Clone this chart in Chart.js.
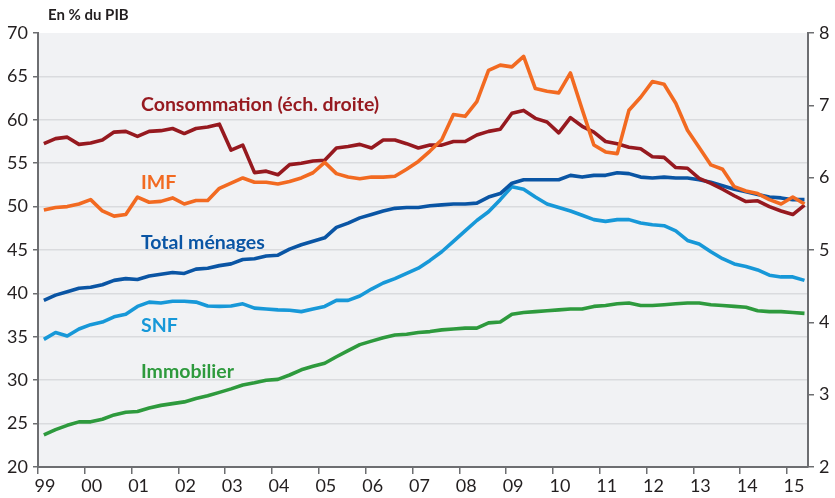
<!DOCTYPE html>
<html lang="fr">
<head>
<meta charset="utf-8">
<title>Crédit en % du PIB</title>
<script src="https://cdn.jsdelivr.net/npm/chart.js@4.4.1/dist/chart.umd.min.js"></script>
<style>
  html, body { margin: 0; padding: 0; background: #fff; }
  #wrap { width: 835px; height: 498px; }
</style>
</head>
<body>
<div id="wrap"><canvas id="chart" width="835" height="498"></canvas></div>
<script>
// tick labels on the x axis (years), one per year from 1999 to 2015
const yearTicks = [1999, 2000, 2001, 2002, 2003, 2004, 2005, 2006, 2007, 2008, 2009, 2010, 2011, 2012, 2013, 2014, 2015];
const yearLabels = ["99", "00", "01", "02", "03", "04", "05", "06", "07", "08", "09", "10", "11", "12", "13", "14", "15"];

// quarterly observations, 1999T1 .. 2015T2
const quarters = [];
for (let y = 1999; y <= 2015; y++) {
  for (let q = 1; q <= 4; q++) {
    if (y === 2015 && q > 2) break;
    quarters.push(y + "T" + q);
  }
}

// right scale (en % du PIB)
const consommation = [
  6.47, 6.54, 6.56, 6.46, 6.48, 6.52, 6.63, 6.64, 6.57, 6.64,
  6.65, 6.68, 6.61, 6.68, 6.70, 6.74, 6.38, 6.45, 6.07, 6.09,
  6.04, 6.18, 6.20, 6.23, 6.24, 6.41, 6.43, 6.46, 6.41, 6.52,
  6.52, 6.47, 6.41, 6.45, 6.45, 6.50, 6.50, 6.59, 6.64, 6.67,
  6.89, 6.93, 6.82, 6.77, 6.62, 6.83, 6.71, 6.63, 6.50, 6.47,
  6.42, 6.40, 6.29, 6.28, 6.14, 6.13, 5.99, 5.92, 5.84, 5.75,
  5.67, 5.68, 5.60, 5.54, 5.49, 5.62
];
// left scale
const imf = [
  49.6, 49.9, 50.0, 50.3, 50.8, 49.5, 48.9, 49.1, 51.1, 50.5,
  50.6, 51.0, 50.3, 50.7, 50.7, 52.1, 52.7, 53.3, 52.8, 52.8,
  52.6, 52.9, 53.3, 53.9, 55.1, 53.8, 53.4, 53.2, 53.4, 53.4,
  53.5, 54.3, 55.2, 56.4, 57.7, 60.6, 60.4, 62.1, 65.7, 66.3,
  66.1, 67.3, 63.6, 63.3, 63.1, 65.4, 61.2, 57.1, 56.3, 56.1,
  61.1, 62.6, 64.4, 64.1, 61.9, 58.8, 56.8, 54.8, 54.3, 52.3,
  51.8, 51.5, 50.8, 50.3, 51.1, 50.3
];
const totalMenages = [
  39.2, 39.8, 40.2, 40.6, 40.7, 41.0, 41.5, 41.7, 41.6, 42.0,
  42.2, 42.4, 42.3, 42.8, 42.9, 43.2, 43.4, 43.9, 44.0, 44.3,
  44.4, 45.1, 45.6, 46.0, 46.4, 47.6, 48.1, 48.7, 49.1, 49.5,
  49.8, 49.9, 49.9, 50.1, 50.2, 50.3, 50.3, 50.4, 51.1, 51.5,
  52.7, 53.1, 53.1, 53.1, 53.1, 53.6, 53.4, 53.6, 53.6, 53.9,
  53.8, 53.4, 53.3, 53.4, 53.3, 53.3, 53.1, 52.8, 52.4, 52.0,
  51.7, 51.4, 51.1, 51.0, 50.8, 50.8
];
const snf = [
  34.7, 35.5, 35.1, 35.9, 36.4, 36.7, 37.3, 37.6, 38.5, 39.0,
  38.9, 39.1, 39.1, 39.0, 38.55, 38.5, 38.55, 38.8, 38.3, 38.2,
  38.1, 38.05, 37.9, 38.2, 38.5, 39.2, 39.2, 39.7, 40.5, 41.2,
  41.7, 42.3, 42.9, 43.8, 44.8, 46.0, 47.2, 48.4, 49.4, 50.8,
  52.3, 52.0, 51.1, 50.3, 49.9, 49.5, 49.0, 48.5, 48.3, 48.5,
  48.5, 48.1, 47.9, 47.8, 47.2, 46.1, 45.7, 44.8, 44.0, 43.4,
  43.1, 42.7, 42.1, 41.9, 41.9, 41.5
];
const immobilier = [
  23.7, 24.3, 24.8, 25.2, 25.2, 25.5, 26.0, 26.3, 26.4, 26.8,
  27.1, 27.3, 27.5, 27.9, 28.2, 28.6, 29.0, 29.45, 29.7, 30.0,
  30.1, 30.6, 31.2, 31.6, 31.95, 32.7, 33.4, 34.1, 34.5, 34.9,
  35.2, 35.3, 35.5, 35.6, 35.8, 35.9, 36.0, 36.0, 36.6, 36.7,
  37.6, 37.8, 37.9, 38.0, 38.1, 38.2, 38.2, 38.5, 38.6, 38.8,
  38.9, 38.6, 38.6, 38.7, 38.8, 38.9, 38.9, 38.7, 38.6, 38.5,
  38.4, 38.0, 37.9, 37.9, 37.8, 37.7
];

const colors = {
  conso: "#96191f",
  imf: "#f26a21",
  total: "#0a55a4",
  snf: "#1798d8",
  immo: "#2e9a3d"
};

// middle of each quarter, in years
const quarterTime = (label) => {
  const [y, q] = label.split("T").map(Number);
  return y + (q - 0.5) / 4;
};
const toPoints = (values) => values.map((v, i) => ({ x: quarterTime(quarters[i]), y: v }));

const FONT = "Lato, 'Open Sans', sans-serif";

const plotBackground = {
  id: "plotBackground",
  beforeDraw(chart) {
    const { ctx, chartArea: a } = chart;
    ctx.save();
    ctx.fillStyle = "#f1f2f4";
    ctx.fillRect(a.left, a.top, a.right - a.left, a.bottom - a.top);
    ctx.restore();
  }
};

const textLayer = {
  id: "textLayer",
  afterDraw(chart) {
    const { ctx } = chart;
    const xs = chart.scales.x, ys = chart.scales.y;
    ctx.save();
    ctx.fillStyle = "#231f20";
    ctx.font = "bold 15px " + FONT;
    ctx.textBaseline = "middle";
    ctx.textAlign = "left";
    ctx.fillText("En % du PIB", 48, 15);

    const labels = [
      ["Consommation (éch. droite)", colors.conso, 61.7],
      ["IMF", colors.imf, 52.8],
      ["Total ménages", colors.total, 45.8],
      ["SNF", colors.snf, 36.3],
      ["Immobilier", colors.immo, 31.0]
    ];
    ctx.font = "bold 19.5px " + FONT;
    labels.forEach(([text, color, yv]) => {
      ctx.fillStyle = color;
      ctx.fillText(text, xs.getPixelForValue(2001.2), ys.getPixelForValue(yv));
    });
    ctx.restore();
  }
};

const line = (label, values, color, axis) => ({
  label: label,
  data: toPoints(values),
  yAxisID: axis,
  borderColor: color,
  borderWidth: 3.6,
  pointRadius: 0,
  fill: false,
  tension: 0,
  borderJoinStyle: "round"
});

Chart.defaults.font.family = FONT;
Chart.defaults.color = "#231f20";

new Chart(document.getElementById("chart").getContext("2d"), {
  type: "line",
  data: {
    datasets: [
      line("IMF", imf, colors.imf, "y"),
      line("Consommation (éch. droite)", consommation, colors.conso, "y2"),
      line("Total ménages", totalMenages, colors.total, "y"),
      line("SNF", snf, colors.snf, "y"),
      line("Immobilier", immobilier, colors.immo, "y")
    ]
  },
  options: {
    responsive: false,
    animation: false,
    devicePixelRatio: 1,
    layout: { padding: { top: 33, left: 0, right: 0, bottom: 0 } },
    plugins: {
      legend: { display: false },
      tooltip: { enabled: false }
    },
    scales: {
      x: {
        type: "linear",
        min: 1999,
        max: 2015.45,
        afterBuildTicks: (s) => { s.ticks = yearTicks.map((v) => ({ value: v })); },
        afterFit: (s) => { s.height = 31; },
        ticks: {
          callback: (v) => yearLabels[yearTicks.indexOf(v)],
          labelOffset: 7,
          padding: 1,
          maxRotation: 0,
          autoSkip: false,
          font: { size: 18 },
          color: "#231f20"
        },
        grid: { drawOnChartArea: false, drawTicks: true, tickLength: 7, tickColor: "#6d6e71", lineWidth: 1.5 },
        border: { display: true, color: "#6d6e71", width: 2 }
      },
      y: {
        position: "left",
        min: 20,
        max: 70,
        afterFit: (s) => { s.width = 38; },
        ticks: { stepSize: 5, padding: 5, font: { size: 18 }, color: "#231f20" },
        grid: {
          color: (c) => (c.tick && (c.tick.value === 20 || c.tick.value === 70)) ? "rgba(0,0,0,0)" : "#dadbde",
          lineWidth: 1.5,
          tickLength: 5,
          tickColor: "#6d6e71"
        },
        border: { display: true, color: "#6d6e71", width: 2 }
      },
      y2: {
        position: "right",
        min: 2,
        max: 8,
        afterFit: (s) => { s.width = 27; },
        ticks: { stepSize: 1, padding: 5, font: { size: 18 }, color: "#231f20" },
        grid: { drawOnChartArea: false, tickLength: 6, tickColor: "#6d6e71", lineWidth: 1.5 },
        border: { display: true, color: "#6d6e71", width: 2 }
      }
    }
  },
  plugins: [plotBackground, textLayer]
});
</script>
</body>
</html>
